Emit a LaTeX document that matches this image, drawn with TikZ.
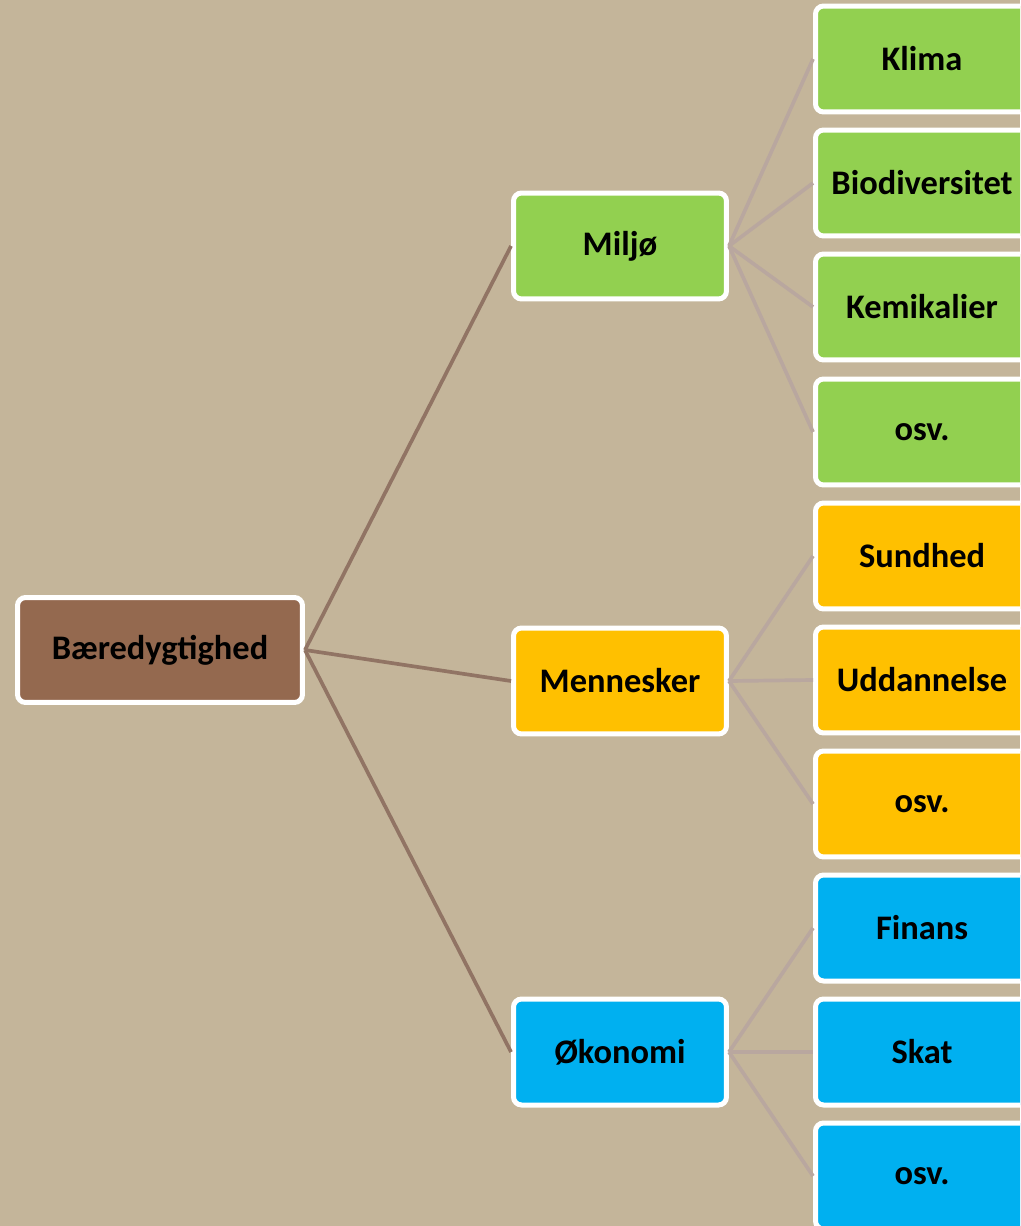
\documentclass[tikz,border=0pt]{standalone}
\usepackage{fontspec}
\setmainfont{Carlito}
\definecolor{bg}{HTML}{C4B59A}
\definecolor{rootfill}{HTML}{94694F}
\definecolor{green}{HTML}{92D050}
\definecolor{orange}{HTML}{FFC000}
\definecolor{blue}{HTML}{00B0F0}
\definecolor{mainline}{HTML}{917464}
\definecolor{leafline}{HTML}{B9A79F}
\begin{document}
\begin{tikzpicture}[
  x=0.02cm, y=-0.02cm,
  box/.style={draw=white, line width=0.1cm, rounded corners=0.16cm, align=center,
    minimum width=4.26cm, minimum height=2.12cm, inner sep=0pt,
    font=\fontsize{19.6}{22}\selectfont\bfseries},
  rootbox/.style={box, fill=rootfill, minimum width=5.7cm, minimum height=2.1cm},
  link/.style={draw=mainline, line width=2.1pt},
  leaflink/.style={draw=leafline, line width=2.1pt}
]
\clip (0,0) rectangle (1020,1226);
\fill[bg] (0,0) rectangle (1020,1226);
\node[rootbox] (root) at (160,650) {Bæredygtighed};
\node[box, fill=green] (milj) at (620,246) {Miljø};
\node[box, fill=orange] (menn) at (620,681) {Mennesker};
\node[box, fill=blue] (oko) at (620,1052) {Økonomi};
% leaves
\node[box, fill=green] (klima) at (922,59) {Klima};
\node[box, fill=green] (bio) at (922,183) {Biodiversitet};
\node[box, fill=green] (kemi) at (922,307) {Kemikalier};
\node[box, fill=green] (osva) at (922,432) {osv.};
\node[box, fill=orange] (sund) at (922,556) {Sundhed};
\node[box, fill=orange] (udd) at (922,680) {Uddannelse};
\node[box, fill=orange] (osvb) at (922,804) {osv.};
\node[box, fill=blue] (fin) at (922,928) {Finans};
\node[box, fill=blue] (skat) at (922,1052) {Skat};
\node[box, fill=blue] (osvc) at (922,1176) {osv.};
% connectors
\draw[link] (root.east) -- (milj.west);
\draw[link] (root.east) -- (menn.west);
\draw[link] (root.east) -- (oko.west);
\draw[leaflink] (milj.east) -- (klima.west);
\draw[leaflink] (milj.east) -- (bio.west);
\draw[leaflink] (milj.east) -- (kemi.west);
\draw[leaflink] (milj.east) -- (osva.west);
\draw[leaflink] (menn.east) -- (sund.west);
\draw[leaflink] (menn.east) -- (udd.west);
\draw[leaflink] (menn.east) -- (osvb.west);
\draw[leaflink] (oko.east) -- (fin.west);
\draw[leaflink] (oko.east) -- (skat.west);
\draw[leaflink] (oko.east) -- (osvc.west);
\end{tikzpicture}
\end{document}
